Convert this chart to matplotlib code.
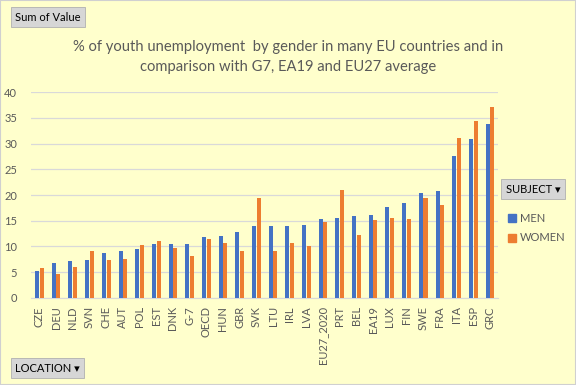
import numpy as np
import matplotlib.pyplot as plt
from matplotlib.patches import Rectangle
from matplotlib.lines import Line2D

# Dados (% de desemprego jovem por sexo)
locations = ['CZE', 'DEU', 'NLD', 'SVN', 'CHE', 'AUT', 'POL', 'EST', 'DNK', 'G-7',
             'OECD', 'HUN', 'GBR', 'SVK', 'LTU', 'IRL', 'LVA', 'EU27_2020', 'PRT',
             'BEL', 'EA19', 'LUX', 'FIN', 'SWE', 'FRA', 'ITA', 'ESP', 'GRC']
men = [5.3, 6.7, 7.2, 7.4, 8.8, 9.2, 9.6, 10.4, 10.4, 10.4,
       11.9, 12.1, 12.9, 14.0, 14.0, 14.0, 14.2, 15.4, 15.6,
       16.0, 16.2, 17.7, 18.5, 20.3, 20.8, 27.6, 30.9, 33.7]
women = [5.9, 4.7, 6.1, 9.2, 7.4, 7.6, 10.2, 11.1, 9.8, 8.2,
         11.5, 10.7, 9.2, 19.5, 9.2, 10.6, 10.0, 14.8, 21.0,
         12.3, 15.2, 15.6, 15.4, 19.5, 18.1, 31.1, 34.4, 37.0]
y_ticks = [0, 5, 10, 15, 20, 25, 30, 35, 40]

bg = '#FFFFCC'
txt = '#595959'
blue = '#4472C4'
orange = '#ED7D31'
fam = ['Lato', 'DejaVu Sans']
plt.rcParams['font.family'] = fam

fig = plt.figure(figsize=(5.76, 3.85), dpi=100, facecolor=bg)
ax = fig.add_axes([0.054, 0.226, 0.811, 0.535], facecolor=bg)

x = np.arange(len(locations))
w = 0.24
ax.bar(x - 0.14, men, width=w, color=blue, zorder=3)
ax.bar(x + 0.14, women, width=w, color=orange, zorder=3)

ax.set_xlim(-0.5, len(locations) - 0.5)
ax.set_ylim(0, 40)
ax.set_yticks(y_ticks)
ax.set_xticks(x)
ax.set_xticklabels(locations, rotation=90)
ax.tick_params(axis='both', length=0, colors=txt, labelsize=8)
ax.tick_params(axis='x', pad=6)
ax.tick_params(axis='y', pad=10)
ax.grid(axis='y', color='#D9D9D9', linewidth=0.9, zorder=0)
for s in ['top', 'right', 'left']:
    ax.spines[s].set_visible(False)
ax.spines['bottom'].set_color('#D9D9D9')

# Título
fig.text(0.5, 0.852, '% of youth unemployment  by gender in many EU countries and in\n'
         'comparison with G7, EA19 and EU27 average',
         ha='center', va='center', fontsize=10.6, color=txt, linespacing=1.6)

# Botões do gráfico dinâmico
btn = dict(boxstyle='square,pad=0.4', fc='#D6D6D6', ec='#B0B0B0', lw=0.6)
fig.text(0.026, 0.955, 'Sum of Value', fontsize=8, color='black', va='center', bbox=btn)
fig.text(0.026, 0.044, 'LOCATION \u25BE', fontsize=8, color='black', va='center', bbox=btn)
fig.text(0.878, 0.508, 'SUBJECT \u25BE', fontsize=8, color='black', va='center', bbox=btn)

# Legenda
handles = [Line2D([], [], marker='s', linestyle='', color=blue, markersize=5.5),
           Line2D([], [], marker='s', linestyle='', color=orange, markersize=5.5)]
fig.legend(handles, ['MEN', 'WOMEN'], loc='upper left', bbox_to_anchor=(0.862, 0.474),
           frameon=False, fontsize=8, labelcolor=txt, handletextpad=0.2,
           labelspacing=0.8, handlelength=1.0)

# Borda da figura
fig.patches.append(Rectangle((0, 0), 1, 1, transform=fig.transFigure, fill=False,
                             ec='#D0D0D0', lw=1.5))

fig.savefig('out.png', dpi=100, facecolor=bg)
